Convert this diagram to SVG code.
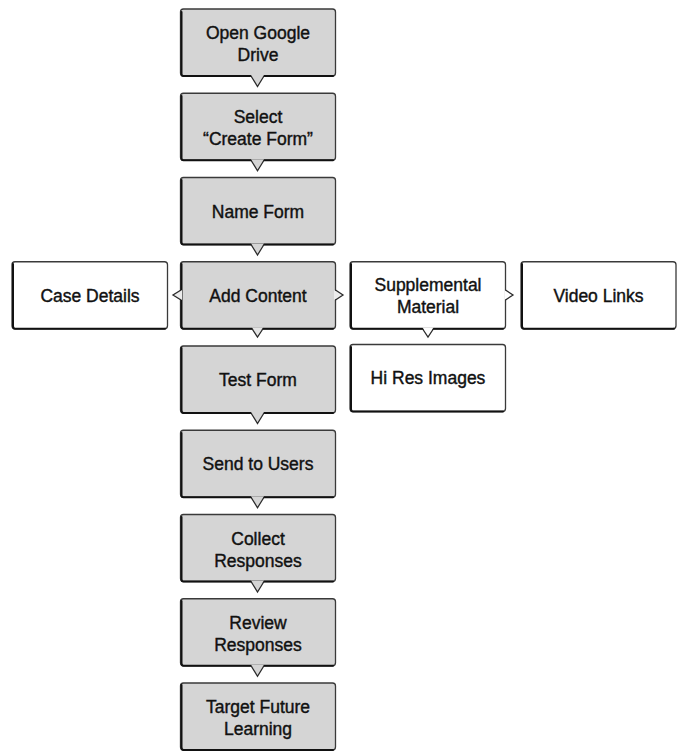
<svg xmlns="http://www.w3.org/2000/svg" width="681" height="756" viewBox="0 0 681 756">
<defs>
<style>
.box{stroke:#3a3a3a;stroke-width:1.3}
.g{fill:#d5d5d5}
.w{fill:#ffffff}
.sh{fill:none;stroke:#111;stroke-width:2;stroke-linecap:round;stroke-linejoin:round}
.t{font-family:"Liberation Sans",Arial,Helvetica,sans-serif;font-size:17.5px;fill:#111;stroke:#111;stroke-width:0.4;text-anchor:middle}
.tailfill{stroke:none}
.tailline{fill:none;stroke:#2a2a2a;stroke-width:1.3;stroke-linejoin:miter}
</style>
</defs>
<rect width="681" height="756" fill="#ffffff"/>

<g id="n-open-drive">
<rect class="box g" x="180.5" y="9" width="155" height="67" rx="3"/>
<path class="sh" d="M181.5,12 V74 Q181.5,76 183.5,76 H333"/>
<text class="t" x="258" y="39">Open Google</text>
<text class="t" x="258" y="61">Drive</text>
</g>
<g id="n-select-create">
<rect class="box g" x="180.5" y="93.25" width="155" height="67" rx="3"/>
<path class="sh" d="M181.5,96 V158 Q181.5,160.25 183.5,160.25 H333"/>
<text class="t" x="258" y="123">Select</text>
<text class="t" x="258" y="145">“Create Form”</text>
</g>
<g id="n-name-form">
<rect class="box g" x="180.5" y="177.5" width="155" height="67" rx="3"/>
<path class="sh" d="M181.5,180 V242 Q181.5,244.5 183.5,244.5 H333"/>
<text class="t" x="258" y="218">Name Form</text>
</g>
<g id="n-add-content">
<rect class="box g" x="180.5" y="261.75" width="155" height="67" rx="3"/>
<path class="sh" d="M181.5,264 V326 Q181.5,328.75 183.5,328.75 H333"/>
<text class="t" x="258" y="302">Add Content</text>
</g>
<g id="n-case-details">
<rect class="box w" x="12" y="261.75" width="155.5" height="67" rx="3"/>
<path class="sh" d="M13,264 V326 Q13,328.75 15,328.75 H165"/>
<text class="t" x="90" y="302">Case Details</text>
</g>
<g id="n-supplemental">
<rect class="box w" x="350" y="261.75" width="155.5" height="67" rx="3"/>
<path class="sh" d="M351,264 V326 Q351,328.75 353,328.75 H503"/>
<text class="t" x="428" y="291">Supplemental</text>
<text class="t" x="428" y="313">Material</text>
</g>
<g id="n-video-links">
<rect class="box w" x="521" y="261.75" width="155" height="67" rx="3"/>
<path class="sh" d="M522,264 V326 Q522,328.75 524,328.75 H674"/>
<text class="t" x="598.5" y="302">Video Links</text>
</g>
<g id="n-hi-res">
<rect class="box w" x="350" y="344.5" width="155.5" height="67" rx="3"/>
<path class="sh" d="M351,347 V409 Q351,411.5 353,411.5 H503"/>
<text class="t" x="428" y="384">Hi Res Images</text>
</g>
<g id="n-test-form">
<rect class="box g" x="180.5" y="346" width="155" height="67" rx="3"/>
<path class="sh" d="M181.5,348 V410 Q181.5,413 183.5,413 H333"/>
<text class="t" x="258" y="386">Test Form</text>
</g>
<g id="n-send-users">
<rect class="box g" x="180.5" y="430.25" width="155" height="67" rx="3"/>
<path class="sh" d="M181.5,433 V495 Q181.5,497.25 183.5,497.25 H333"/>
<text class="t" x="258" y="470">Send to Users</text>
</g>
<g id="n-collect">
<rect class="box g" x="180.5" y="514.5" width="155" height="67" rx="3"/>
<path class="sh" d="M181.5,517 V579 Q181.5,581.5 183.5,581.5 H333"/>
<text class="t" x="258" y="545">Collect</text>
<text class="t" x="258" y="567">Responses</text>
</g>
<g id="n-review">
<rect class="box g" x="180.5" y="598.75" width="155" height="67" rx="3"/>
<path class="sh" d="M181.5,601 V663 Q181.5,665.75 183.5,665.75 H333"/>
<text class="t" x="258" y="629">Review</text>
<text class="t" x="258" y="651">Responses</text>
</g>
<g id="n-target">
<rect class="box g" x="180.5" y="683" width="155" height="67" rx="3"/>
<path class="sh" d="M181.5,685 V747 Q181.5,750 183.5,750 H333"/>
<text class="t" x="258" y="713">Target Future</text>
<text class="t" x="258" y="735">Learning</text>
</g>

<g id="connectors">
<!-- down tails main column -->
<polygon class="tailfill g" points="251,75 264,75 257.5,86.5"/>
<path class="tailline" d="M251,76 L257.5,86.5 L264,76"/>
<polygon class="tailfill g" points="251,159.25 264,159.25 257.5,170.75"/>
<path class="tailline" d="M251,160.25 L257.5,170.75 L264,160.25"/>
<polygon class="tailfill g" points="251,243.5 264,243.5 257.5,255"/>
<path class="tailline" d="M251,244.5 L257.5,255 L264,244.5"/>
<polygon class="tailfill" fill="#e4e4e4" points="252,327.5 263,327.5 257.5,337"/>
<path class="tailline" d="M252,328.75 L257.5,337 L263,328.75"/>
<polygon class="tailfill g" points="251,412 264,412 257.5,423.5"/>
<path class="tailline" d="M251,413 L257.5,423.5 L264,413"/>
<polygon class="tailfill g" points="251,496.25 264,496.25 257.5,507.75"/>
<path class="tailline" d="M251,497.25 L257.5,507.75 L264,497.25"/>
<polygon class="tailfill g" points="251,580.5 264,580.5 257.5,592"/>
<path class="tailline" d="M251,581.5 L257.5,592 L264,581.5"/>
<polygon class="tailfill g" points="251,664.75 264,664.75 257.5,676.25"/>
<path class="tailline" d="M251,665.75 L257.5,676.25 L264,665.75"/>
<!-- Add Content -> Case Details (left) -->
<polygon class="tailfill" fill="#ececec" points="182,290 182,300 173,295"/>
<path class="tailline" d="M181,290 L173,295 L181,300"/>
<!-- Add Content -> Supplemental (right) -->
<polygon class="tailfill" fill="#ececec" points="334,290 334,300 343,295"/>
<path class="tailline" d="M335.5,290 L343,295 L335.5,300"/>
<!-- Supplemental -> Video Links (right) -->
<polygon class="tailfill w" points="504.5,290 504.5,300 513,295"/>
<path class="tailline" d="M505.5,290 L513,295 L505.5,300"/>
<!-- Supplemental -> Hi Res (down) -->
<polygon class="tailfill w" points="422.5,327.5 433.5,327.5 428,337"/>
<path class="tailline" d="M422.5,328.75 L428,337 L433.5,328.75"/>
</g>
</svg>
